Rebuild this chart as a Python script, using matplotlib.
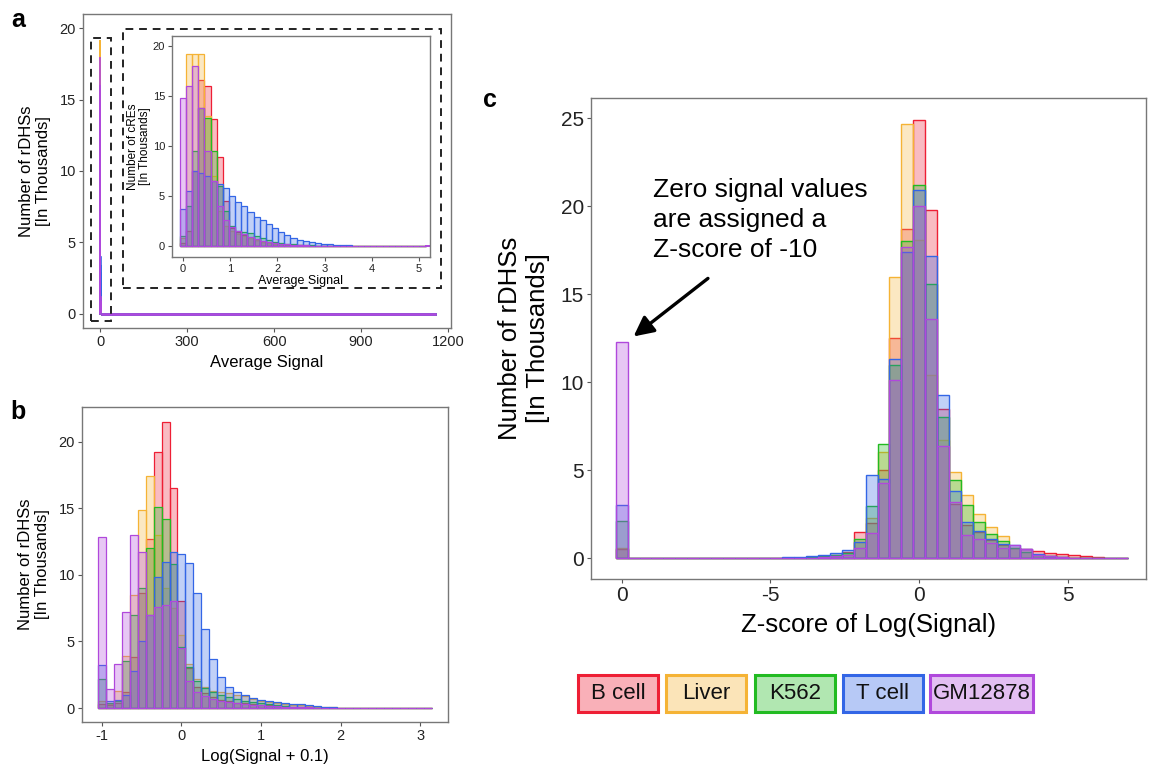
import numpy as np
import matplotlib.pyplot as plt
from matplotlib.colors import to_rgba
from matplotlib.patches import Rectangle

plt.rcParams['font.family'] = ['Liberation Sans', 'DejaVu Sans']
plt.rcParams['axes.unicode_minus'] = False

cell_types = ['B cell', 'Liver', 'K562', 'T cell', 'GM12878']
edge_colors = ['#EE1F35', '#F5B335', '#22BB22', '#3366E6', '#B048DC']

# ---- panel a: average signal, bins of 0.13 starting at 0 (values in thousands)
a_start, a_width = 0.0, 0.13
a_bcell = [0.3, 1.5, 7.5, 16.6, 16.0, 12.7, 8.9, 4.5, 1.8, 1.4,
           1.1, 0.8, 0.6, 0.45, 0.35, 0.28, 0.22, 0.17, 0.13, 0.1,
           0.08, 0.07, 0.06, 0.05, 0.04, 0.03, 0.03, 0.02, 0.02, 0.02,
           0.01, 0.01, 0.01, 0.01, 0.01, 0.01, 0.01, 0, 0, 0]
a_liver = [0.8, 19.2, 19.2, 19.2, 13.0, 7.0, 3.5, 2.0, 1.5, 1.2,
           1.0, 0.8, 0.6, 0.45, 0.35, 0.27, 0.2, 0.15, 0.12, 0.1,
           0.08, 0.06, 0.05, 0.04, 0.03, 0.03, 0.02, 0.02, 0.02, 0.01,
           0.01, 0.01, 0.01, 0.01, 0.01, 0, 0, 0, 0, 0]
a_k562 = [1.0, 4.0, 9.5, 13.8, 12.8, 9.5, 6.0, 3.5, 2.0, 1.5,
          1.4, 1.3, 1.0, 0.8, 0.6, 0.45, 0.35, 0.25, 0.2, 0.15,
          0.12, 0.1, 0.08, 0.06, 0.05, 0.04, 0.03, 0.03, 0.02, 0.02,
          0.02, 0.01, 0.01, 0.01, 0.01, 0.01, 0, 0, 0, 0]
a_tcell = [3.7, 5.5, 7.5, 7.3, 7.0, 6.5, 6.2, 5.8, 5.0, 4.4,
           4.0, 3.4, 2.9, 2.6, 2.2, 1.8, 1.4, 1.1, 0.85, 0.65,
           0.5, 0.4, 0.3, 0.25, 0.2, 0.15, 0.12, 0.1, 0.08, 0.06,
           0.05, 0.04, 0.03, 0.03, 0.02, 0.02, 0.02, 0.01, 0.01, 0.01]
a_gm = [14.8, 16.0, 18.0, 13.8, 9.5, 6.5, 4.0, 2.6, 1.9, 1.5,
        1.2, 0.9, 0.7, 0.55, 0.45, 0.35, 0.28, 0.22, 0.17, 0.13,
        0.1, 0.08, 0.06, 0.05, 0.04, 0.03, 0.03, 0.02, 0.02, 0.01,
        0.01, 0.01, 0.01, 0.01, 0, 0, 0, 0, 0, 0]
max_signal = 1155

# ---- panel b: log(signal + 0.1), bins of 0.1 starting at -1.0
b_start, b_width = -1.0, 0.1
b_bcell = [0.3, 0.2, 0.4, 1.2, 3.8, 8.6, 12.7, 19.2, 21.5, 16.5,
           8.0, 3.0, 1.6, 1.1, 0.8, 0.6, 0.5, 0.4, 0.35, 0.3,
           0.25, 0.2, 0.15, 0.12, 0.1, 0.08, 0.06, 0.04, 0.03, 0.02,
           0.01, 0.01, 0, 0, 0, 0, 0, 0, 0, 0, 0, 0]
b_liver = [0.5, 0.3, 1.3, 3.9, 8.5, 14.9, 17.4, 13.0, 9.0, 7.5,
           5.5, 3.3, 2.2, 1.6, 1.3, 1.2, 1.1, 1.0, 0.9, 0.7,
           0.55, 0.45, 0.35, 0.3, 0.25, 0.2, 0.15, 0.1, 0.07, 0.05,
           0.03, 0.02, 0.01, 0.01, 0, 0, 0, 0, 0, 0, 0, 0]
b_k562 = [2.2, 0.4, 0.5, 3.5, 7.0, 9.0, 12.0, 15.1, 14.2, 10.8,
          4.6, 3.1, 2.0, 1.5, 1.2, 1.0, 0.8, 0.7, 0.55, 0.45,
          0.35, 0.28, 0.2, 0.15, 0.1, 0.07, 0.05, 0.03, 0.02, 0.01,
          0.01, 0, 0, 0, 0, 0, 0, 0, 0, 0, 0, 0]
b_tcell = [3.2, 0.5, 0.6, 1.0, 2.8, 5.0, 7.0, 9.8, 11.0, 11.7,
           11.6, 10.9, 8.6, 5.9, 3.7, 2.3, 1.6, 1.2, 0.95, 0.75,
           0.6, 0.5, 0.42, 0.35, 0.3, 0.28, 0.22, 0.16, 0.1, 0.06,
           0.03, 0.02, 0.01, 0.01, 0, 0, 0, 0, 0, 0, 0, 0]
b_gm = [12.85, 1.4, 3.3, 7.2, 13.0, 11.7, 7.0, 7.6, 7.7, 8.0,
        4.5, 2.0, 1.2, 0.9, 0.7, 0.55, 0.45, 0.35, 0.3, 0.25,
        0.2, 0.15, 0.12, 0.1, 0.08, 0.06, 0.04, 0.03, 0.02, 0.01,
        0.01, 0, 0, 0, 0, 0, 0, 0, 0, 0, 0, 0]

# ---- panel c: z-score of log(signal), bins of 0.4 starting at -10
c_start, c_width = -10.0, 0.4
c_bcell = [0.55, 0, 0, 0, 0, 0, 0, 0, 0, 0, 0, 0, 0,
           0.01, 0.02, 0.03, 0.05, 0.1, 0.2, 0.35, 1.5, 2.0, 5.0,
           12.5, 18.7, 24.9, 19.8, 8.5, 3.1, 1.9, 1.5, 1.05, 0.75,
           0.6, 0.5, 0.4, 0.32, 0.25, 0.18, 0.12, 0.07, 0.03, 0.01]
c_liver = [0.6, 0, 0, 0, 0, 0, 0, 0, 0, 0, 0, 0, 0,
           0.01, 0.01, 0.02, 0.04, 0.08, 0.15, 0.3, 0.9, 2.3, 6.05,
           16.0, 24.7, 18.1, 10.4, 6.7, 4.9, 3.6, 2.5, 1.77, 1.24,
           0.6, 0.35, 0.2, 0.12, 0.07, 0.04, 0.02, 0.01, 0, 0]
c_k562 = [2.1, 0, 0, 0, 0, 0, 0, 0, 0, 0, 0, 0, 0,
          0.01, 0.02, 0.03, 0.05, 0.1, 0.2, 0.3, 1.1, 2.95, 6.5,
          11.0, 18.0, 21.2, 15.6, 8.0, 4.45, 3.0, 2.07, 1.35, 1.0,
          0.6, 0.35, 0.2, 0.1, 0.05, 0.03, 0.02, 0.01, 0, 0]
c_tcell = [3.05, 0, 0, 0, 0, 0, 0, 0, 0, 0, 0, 0, 0,
           0.03, 0.05, 0.08, 0.12, 0.2, 0.3, 0.45, 0.9, 4.75, 4.5,
           11.3, 17.4, 20.9, 17.2, 9.3, 3.8, 2.05, 1.55, 1.1, 0.8,
           0.77, 0.5, 0.25, 0.12, 0.06, 0.03, 0.02, 0.01, 0, 0]
c_gm = [12.3, 0, 0, 0, 0, 0, 0, 0, 0, 0, 0, 0, 0,
        0.01, 0.01, 0.02, 0.04, 0.08, 0.12, 0.2, 0.58, 1.45, 4.3,
        10.1, 17.7, 20.0, 13.6, 6.35, 3.2, 1.3, 1.1, 0.85, 0.6,
        0.77, 0.5, 0.2, 0.1, 0.05, 0.03, 0.02, 0.01, 0, 0]

W, H = 1151, 767
fig = plt.figure(figsize=(W / 100, H / 100), dpi=100)


def px_axes(left, top, right, bottom):
    # figure pixels (from top-left) -> axes rect
    return fig.add_axes([left / W, 1 - bottom / H, (right - left) / W, (bottom - top) / H])


def style(ax, size):
    for s in ax.spines.values():
        s.set_color('#777777')
        s.set_linewidth(1.0)
    ax.tick_params(colors='#555555', labelcolor='#222222', labelsize=size,
                   length=3, width=0.8, pad=2)


def draw_hist(ax, start, width, series, lw, tail_to=None):
    for vals, col in zip(series, edge_colors):
        centers = start + width * np.arange(len(vals))
        ax.bar(centers, vals, width=width, facecolor=to_rgba(col, 0.3),
               edgecolor=col, linewidth=lw)
        if tail_to is not None:
            ax.plot([centers[-1] + width / 2, tail_to], [0, 0], color=col, lw=lw * 1.6)


a_series = [a_bcell, a_liver, a_k562, a_tcell, a_gm]
b_series = [b_bcell, b_liver, b_k562, b_tcell, b_gm]
c_series = [c_bcell, c_liver, c_k562, c_tcell, c_gm]

# ---------------- panel a
ax_a = px_axes(83, 14, 451, 328)
draw_hist(ax_a, a_start, a_width, a_series, 1.2, tail_to=max_signal)
ax_a.set_xlim(-59, 1210)
ax_a.set_ylim(-1, 21)
ax_a.set_xticks([0, 300, 600, 900, 1200])
ax_a.set_yticks([0, 5, 10, 15, 20])
style(ax_a, 10.5)
ax_a.set_xlabel('Average Signal', fontsize=12, labelpad=4)
ax_a.set_ylabel('Number of rDHSs\n[In Thousands]', fontsize=12, labelpad=6)

ax_in = px_axes(172, 36, 430, 257)
draw_hist(ax_in, a_start, a_width, a_series, 0.9, tail_to=max_signal)
ax_in.set_xlim(-0.23, 5.23)
ax_in.set_ylim(-1.05, 21)
ax_in.set_xticks([0, 1, 2, 3, 4, 5])
ax_in.set_yticks([0, 5, 10, 15, 20])
style(ax_in, 8)
ax_in.set_xlabel('Average Signal', fontsize=9, labelpad=1)
ax_in.set_ylabel('Number of cREs\n[In Thousands]', fontsize=8.5, labelpad=1,
                 linespacing=1.0)

for x0, y0, x1, y1 in [(91, 38, 111, 321), (123, 29, 441, 288)]:
    fig.patches.append(Rectangle((x0 / W, 1 - y1 / H), (x1 - x0) / W, (y1 - y0) / H,
                                 transform=fig.transFigure, fill=False,
                                 ec='#222222', lw=1.4, ls=(0, (4, 3))))

# ---------------- panel b
ax_b = px_axes(82, 407, 448, 722)
draw_hist(ax_b, b_start, b_width, b_series, 0.9)
ax_b.set_xlim(-1.25, 3.35)
ax_b.set_ylim(-1.05, 22.6)
ax_b.set_xticks([-1, 0, 1, 2, 3])
ax_b.set_yticks([0, 5, 10, 15, 20])
style(ax_b, 10.5)
ax_b.set_xlabel('Log(Signal + 0.1)', fontsize=12, labelpad=4)
ax_b.set_ylabel('Number of rDHSs\n[In Thousands]', fontsize=12, labelpad=6)

# ---------------- panel c
ax_c = px_axes(591, 98, 1146, 579)
draw_hist(ax_c, c_start, c_width, c_series, 1.0)
ax_c.set_xlim(-11.03, 7.62)
ax_c.set_ylim(-1.18, 26.15)
ax_c.set_xticks([-10, -5, 0, 5])
ax_c.set_xticklabels(['0', '-5', '0', '5'])
ax_c.set_yticks([0, 5, 10, 15, 20, 25])
style(ax_c, 15)
ax_c.set_xlabel('Z-score of Log(Signal)', fontsize=18.5, labelpad=6)
ax_c.set_ylabel('Number of rDHSs\n[In Thousands]', fontsize=18.5, labelpad=8)
ax_c.text(-8.96, 21.6, 'Zero signal values\nare assigned a\nZ-score of -10',
          fontsize=19, va='top', ha='left', linespacing=1.32)
ax_c.annotate('', xy=(-9.6, 12.6), xytext=(-7.1, 15.9),
              arrowprops=dict(arrowstyle='-|>', color='black', lw=2.4,
                              mutation_scale=30, shrinkA=0, shrinkB=0))

# ---------------- legend boxes
legend_boxes = [(578, 658), (666, 746), (755, 835), (843, 923), (930, 1033)]
for (x0, x1), name, col in zip(legend_boxes, cell_types, edge_colors):
    fig.patches.append(Rectangle((x0 / W, 1 - 712 / H), (x1 - x0) / W, 37 / H,
                                 transform=fig.transFigure, fc=to_rgba(col, 0.35),
                                 ec=col, lw=2.2))
    fig.text((x0 + x1) / 2 / W, 1 - 693.5 / H, name, fontsize=16,
             ha='center', va='center', color='#111111')

# panel letters
for letter, x, y in [('a', 18, 20), ('b', 18, 412), ('c', 490, 100)]:
    fig.text(x / W, 1 - y / H, letter, fontsize=18, fontweight='bold',
             ha='center', va='center')

fig.savefig('out.png', dpi=100)
